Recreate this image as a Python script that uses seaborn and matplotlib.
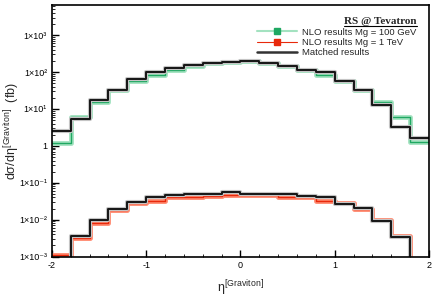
import numpy as np
import pandas as pd
import matplotlib
matplotlib.use("Agg")
import matplotlib.pyplot as plt
import seaborn as sns
from matplotlib.lines import Line2D
from matplotlib.ticker import FixedLocator, LogLocator

# eta bin edges (20 bins of 0.2 between -2 and 2)
edges = np.round(np.arange(-2.0, 2.01, 0.2), 2)

# Mg = 100 GeV
nlo_100 = [1.2, 6.0, 15, 33, 58, 85, 112, 145, 173, 186, 195, 180, 148, 112, 84, 58, 33, 15, 6.2, 1.25]
match_100 = [2.6, 5.5, 18, 32, 65, 100, 126, 155, 178, 190, 198, 178, 148, 112, 102, 58, 32, 12.6, 3.2, 1.66]

# Mg = 1 TeV
nlo_1tev = [1.1e-3, 3.1e-3, 8.1e-3, 0.018, 0.028, 0.033, 0.040, 0.041, 0.044, 0.048,
            0.046, 0.046, 0.042, 0.040, 0.033, 0.029, 0.019, 0.010, 3.7e-3, 1e-4]
match_1tev = [1e-4, 3.5e-3, 9.5e-3, 0.020, 0.030, 0.040, 0.048, 0.050, 0.050, 0.055,
              0.050, 0.050, 0.050, 0.043, 0.040, 0.027, 0.021, 9.1e-3, 3.3e-3, 1e-4]

ytick_vals = [1e-3, 1e-2, 1e-1, 1, 1e1, 1e2, 1e3]
ytick_labels = ["1×10⁻³", "1×10⁻²", "1×10⁻¹", "1", "1×10¹", "1×10²", "1×10³"]

GREEN = "#1fa862"
GREEN_BAND = "#a3e2c0"
RED = "#e8290b"
RED_BAND = "#ff8a70"


def stepdf(vals):
    return pd.DataFrame({"eta": edges, "y": list(vals) + [vals[-1]]})


sns.set_style("white")
plt.rcParams["font.family"] = ["Liberation Sans", "DejaVu Sans"]
plt.rcParams["mathtext.fontset"] = "custom"
plt.rcParams["mathtext.rm"] = "Liberation Sans"
plt.rcParams["mathtext.it"] = "Liberation Sans"

fig = plt.figure(figsize=(4.36, 3.08), dpi=100)
ax = fig.add_axes([0.119, 0.167, 0.865, 0.817])

for vals, band, col in [(nlo_100, GREEN_BAND, GREEN), (nlo_1tev, RED_BAND, RED)]:
    d = stepdf(vals)
    sns.lineplot(data=d, x="eta", y="y", drawstyle="steps-post", color=band, lw=3.5, ax=ax, sort=False)
    sns.lineplot(data=d, x="eta", y="y", drawstyle="steps-post", color=col, lw=1.0, ax=ax, sort=False)

for vals in [match_100, match_1tev]:
    d = stepdf(vals)
    sns.lineplot(data=d, x="eta", y="y", drawstyle="steps-post", color="#c4c4c4",
                 lw=3.0, ax=ax, sort=False)
    sns.lineplot(data=d, x="eta", y="y", drawstyle="steps-post", color="#151515",
                 lw=1.4, ax=ax, sort=False)

ax.set_yscale("log")
ax.set_xlim(-2, 2)
ax.set_ylim(1e-3, 6600)
ax.yaxis.set_major_locator(FixedLocator(ytick_vals))
ax.set_yticklabels(ytick_labels)
ax.yaxis.set_minor_locator(LogLocator(base=10, subs=np.arange(2, 10), numticks=20))
ax.set_xticks([-2, -1, 0, 1, 2])
ax.set_xticklabels(["-2", "-1", "0", "1", "2"])
ax.set_xticks(np.arange(-2, 2.01, 0.2), minor=True)
ax.tick_params(axis="both", which="major", direction="in", length=5, width=1, labelsize=6.5,
               left=True, bottom=True, colors="black")
ax.tick_params(axis="both", which="minor", direction="in", length=2.5, width=0.7,
               left=True, bottom=True)
ax.tick_params(axis="y", which="minor", labelleft=False)
for s in ax.spines.values():
    s.set_color("black")
    s.set_linewidth(1.2)

ax.set_xlabel(r"$\eta^{[\mathrm{Graviton}]}$", fontsize=9)
ax.set_ylabel(r"d$\sigma$/d$\eta^{[\mathrm{Graviton}]}$  (fb)", fontsize=9)
ax.yaxis.set_label_coords(-0.078, 0.5)
ax.xaxis.set_label_coords(0.5, -0.085)

handles = [
    Line2D([], [], color=GREEN_BAND, lw=1.5, marker="s", markersize=5,
           markerfacecolor=GREEN, markeredgecolor=GREEN),
    Line2D([], [], color=RED, lw=0.8, marker="s", markersize=5,
           markerfacecolor=RED, markeredgecolor=RED),
    Line2D([], [], color="#333333", lw=1.8),
]
labels = ["NLO results Mg = 100 GeV", "NLO results Mg = 1 TeV", "Matched results"]
leg = ax.legend(handles, labels, loc="upper right", bbox_to_anchor=(0.99, 0.985), frameon=False,
                fontsize=6.8, handlelength=4.2, handletextpad=0.6, labelspacing=0.15, numpoints=1,
                title="RS @ Tevatron")
leg.get_title().set_fontfamily(["Liberation Serif", "DejaVu Serif"])
leg.get_title().set_fontweight("bold")
leg.get_title().set_fontsize(8)
leg._legend_box.align = "right"

fig.canvas.draw()
tb = leg.get_title().get_window_extent().transformed(fig.transFigure.inverted())
fig.add_artist(Line2D([tb.x0, tb.x1], [tb.y0 + 0.002, tb.y0 + 0.002], color="black", lw=0.8,
                      transform=fig.transFigure))

fig.savefig("out.png", dpi=100)
